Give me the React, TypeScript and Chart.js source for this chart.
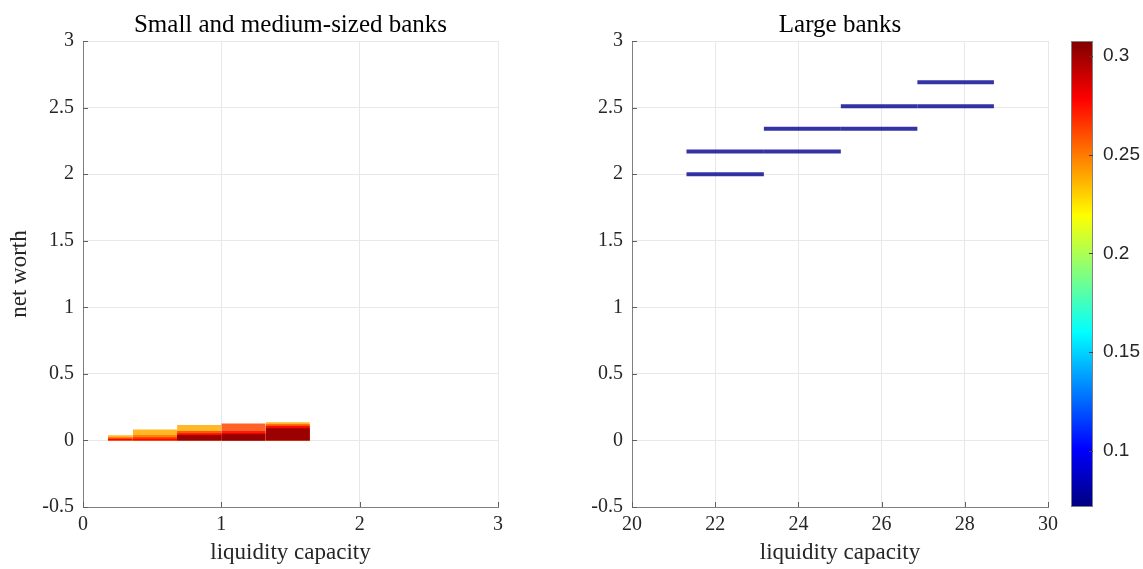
import React, { useEffect, useRef } from "react";
import { Chart, registerables } from "chart.js";

Chart.register(...registerables);

// ---------- data ----------
const smallXTicks = [0, 1, 2, 3];
const largeXTicks = [20, 22, 24, 26, 28, 30];
const yTicks = [-0.5, 0, 0.5, 1, 1.5, 2, 2.5, 3];
const colorTicks = [0.1, 0.15, 0.2, 0.25, 0.3];
const colorMin = 0.0716;
const colorMax = 0.3076;

// small & medium-sized banks: cell edges on liquidity capacity, layer heights (net worth) and colour values
const smallEdges = [0.18, 0.36, 0.68, 1.0, 1.32, 1.64];
const smallHeights = [
  [0.038, 0.022, 0.01],
  [0.082, 0.04, 0.025, 0.012],
  [0.116, 0.07, 0.053, 0.04],
  [0.128, 0.07, 0.053, 0.046],
  [0.136, 0.121, 0.108, 0.091],
];
const smallValues = [
  [0.238, 0.265, 0.28],
  [0.238, 0.25, 0.265, 0.28],
  [0.238, 0.262, 0.28, 0.305],
  [0.262, 0.275, 0.29, 0.305],
  [0.238, 0.262, 0.28, 0.305],
];

// large banks: horizontal segments
const largeX0 = [21.31, 21.31, 23.17, 23.17, 25.02, 25.02, 26.86, 26.86];
const largeX1 = [23.17, 23.17, 25.02, 25.02, 26.86, 26.86, 28.7, 28.7];
const largeY = [2.0, 2.17, 2.17, 2.34, 2.34, 2.51, 2.51, 2.69];
const largeValues = [0.075, 0.075, 0.075, 0.075, 0.075, 0.075, 0.075, 0.075];

// ---------- helpers ----------
const clamp = (v: number) => Math.max(0, Math.min(1, v));
const jet = (t: number) => [
  clamp(1.5 - Math.abs(4 * t - 3)),
  clamp(1.5 - Math.abs(4 * t - 2)),
  clamp(1.5 - Math.abs(4 * t - 1)),
];
const colorFor = (v: number, a: number) => {
  const t = (v - colorMin) / (colorMax - colorMin);
  const [r, g, b] = jet(t);
  return `rgba(${Math.round(r * 255)},${Math.round(g * 255)},${Math.round(b * 255)},${a})`;
};

const SERIF = "'Liberation Serif', 'Times New Roman', serif";
const SANS = "'Liberation Sans', Arial, sans-serif";
const TEXT = "#262626";
const AXIS = "#808080";
const GRID = "#e8e8e8";

const titlePlugin = (text: string) => ({
  id: "customTitle",
  afterDraw(chart: any) {
    const { ctx, chartArea } = chart;
    ctx.save();
    ctx.font = `25px ${SERIF}`;
    ctx.fillStyle = "#000";
    ctx.textAlign = "center";
    ctx.textBaseline = "alphabetic";
    ctx.fillText(text, (chartArea.left + chartArea.right) / 2, 32);
    ctx.restore();
  },
});

const innerTicksPlugin = {
  id: "innerTicks",
  afterDraw(chart: any) {
    const { ctx, chartArea } = chart;
    ctx.save();
    ctx.strokeStyle = "#606060";
    ctx.lineWidth = 1;
    const xs = chart.scales.x;
    const ys = chart.scales.y;
    ctx.beginPath();
    xs.ticks.forEach((t: any) => {
      const px = Math.round(xs.getPixelForValue(t.value)) + 0.5;
      ctx.moveTo(px, chartArea.bottom);
      ctx.lineTo(px, chartArea.bottom - 5);
    });
    ys.ticks.forEach((t: any) => {
      const py = Math.round(ys.getPixelForValue(t.value)) + 0.5;
      ctx.moveTo(chartArea.left, py);
      ctx.lineTo(chartArea.left + 5, py);
    });
    ctx.stroke();
    ctx.restore();
  },
};

function axisOptions(xTicks: number[], yWidth: number, yTitle: string | null) {
  return {
    x: {
      type: "linear",
      min: xTicks[0],
      max: xTicks[xTicks.length - 1],
      afterBuildTicks: (s: any) => {
        s.ticks = xTicks.map((v) => ({ value: v }));
      },
      afterFit: (s: any) => {
        s.height = 62;
      },
      grid: { color: GRID, drawTicks: false },
      border: { display: true, color: AXIS, width: 1 },
      ticks: {
        color: TEXT,
        font: { family: SERIF, size: 20 },
        padding: 6,
        maxRotation: 0,
        callback: (v: any) => String(v),
      },
      title: {
        display: true,
        text: "liquidity capacity",
        color: TEXT,
        font: { family: SERIF, size: 23 },
        padding: { top: 0, bottom: 2 },
      },
    },
    y: {
      type: "linear",
      min: yTicks[0],
      max: yTicks[yTicks.length - 1],
      afterBuildTicks: (s: any) => {
        s.ticks = yTicks.map((v) => ({ value: v }));
      },
      afterFit: (s: any) => {
        s.width = yWidth;
      },
      grid: { color: GRID, drawTicks: false },
      border: { display: true, color: AXIS, width: 1 },
      ticks: {
        color: TEXT,
        font: { family: SERIF, size: 20 },
        padding: 9,
        callback: (v: any) => String(v),
      },
      title: {
        display: !!yTitle,
        text: yTitle || "",
        color: TEXT,
        font: { family: SERIF, size: 23 },
        padding: { top: 6, bottom: 0 },
      },
    },
  };
}

function buildSmallDatasets() {
  const list: any[] = [];
  smallHeights.forEach((layers, i) => {
    layers.forEach((h, j) => {
      list.push({
        data: [
          { x: smallEdges[i], y: h },
          { x: smallEdges[i + 1], y: h },
        ],
        fill: "origin",
        backgroundColor: colorFor(smallValues[i][j], 0.85),
        borderColor: "transparent",
        borderWidth: 0,
        pointRadius: 0,
        tension: 0,
      });
    });
  });
  const n = list.length;
  list.forEach((d, k) => (d.order = n - k));
  return list;
}

function buildLargeDatasets() {
  const list = largeY.map((y, i) => ({
    data: [
      { x: largeX0[i], y },
      { x: largeX1[i], y },
    ],
    fill: false,
    borderColor: colorFor(largeValues[i], 0.8),
    borderWidth: 4,
    borderCapStyle: "butt",
    pointRadius: 0,
    tension: 0,
  }));
  const n = list.length;
  list.forEach((d: any, k) => (d.order = n - k));
  return list;
}

function SmallChart() {
  const ref = useRef<HTMLCanvasElement>(null);
  useEffect(() => {
    const chart = new Chart(ref.current as HTMLCanvasElement, {
      type: "line",
      data: { datasets: buildSmallDatasets() },
      options: {
        responsive: false,
        animation: false,
        events: [],
        layout: { padding: { left: 0, right: 32, top: 41, bottom: 0 } },
        plugins: { legend: { display: false }, tooltip: { enabled: false } },
        scales: axisOptions(smallXTicks, 83, "net worth") as any,
      },
      plugins: [titlePlugin("Small and medium-sized banks"), innerTicksPlugin],
    });
    return () => chart.destroy();
  }, []);
  return (
    <canvas
      ref={ref}
      width={530}
      height={569}
      style={{ position: "absolute", left: 0, top: 0, width: 530, height: 569 }}
    />
  );
}

function LargeChart() {
  const ref = useRef<HTMLCanvasElement>(null);
  useEffect(() => {
    const chart = new Chart(ref.current as HTMLCanvasElement, {
      type: "line",
      data: { datasets: buildLargeDatasets() as any },
      options: {
        responsive: false,
        animation: false,
        events: [],
        layout: { padding: { left: 0, right: 22, top: 41, bottom: 0 } },
        plugins: { legend: { display: false }, tooltip: { enabled: false } },
        scales: axisOptions(largeXTicks, 92, null) as any,
      },
      plugins: [titlePlugin("Large banks"), innerTicksPlugin],
    });
    return () => chart.destroy();
  }, []);
  return (
    <canvas
      ref={ref}
      width={530}
      height={569}
      style={{ position: "absolute", left: 540, top: 0, width: 530, height: 569 }}
    />
  );
}

const colorbarPlugin = {
  id: "colorbar",
  beforeDatasetsDraw(chart: any) {
    const { ctx, chartArea } = chart;
    const { left, right, top, bottom } = chartArea;
    const grad = ctx.createLinearGradient(0, bottom, 0, top);
    const steps = 64;
    for (let i = 0; i <= steps; i++) {
      const t = i / steps;
      const [r, g, b] = jet(t);
      grad.addColorStop(t, `rgb(${Math.round(r * 255)},${Math.round(g * 255)},${Math.round(b * 255)})`);
    }
    ctx.save();
    ctx.fillStyle = grad;
    ctx.fillRect(left, top, right - left, bottom - top);
    ctx.strokeStyle = "#808080";
    ctx.lineWidth = 1;
    ctx.strokeRect(left + 0.5, top + 0.5, right - left - 1, bottom - top - 1);
    const ys = chart.scales.y;
    ctx.strokeStyle = "#404040";
    ctx.beginPath();
    ys.ticks.forEach((t: any) => {
      const py = Math.round(ys.getPixelForValue(t.value)) + 0.5;
      ctx.moveTo(right, py);
      ctx.lineTo(right - 4, py);
    });
    ctx.stroke();
    ctx.restore();
  },
};

function Colorbar() {
  const ref = useRef<HTMLCanvasElement>(null);
  useEffect(() => {
    const chart = new Chart(ref.current as HTMLCanvasElement, {
      type: "scatter",
      data: { datasets: [{ data: [] }] },
      options: {
        responsive: false,
        animation: false,
        events: [],
        layout: { padding: { left: 21, right: 0, top: 41, bottom: 62 } },
        plugins: { legend: { display: false }, tooltip: { enabled: false } },
        scales: {
          x: { display: false, min: 0, max: 1 },
          y: {
            position: "right",
            min: colorMin,
            max: colorMax,
            afterBuildTicks: (s: any) => {
              s.ticks = colorTicks.map((v) => ({ value: v }));
            },
            afterFit: (s: any) => {
              s.width = 50;
            },
            grid: { display: false, drawTicks: false },
            border: { display: false },
            ticks: {
              color: TEXT,
              font: { family: SANS, size: 19 },
              padding: 10,
              callback: (v: any) => String(v),
            },
          },
        } as any,
      },
      plugins: [colorbarPlugin],
    });
    return () => chart.destroy();
  }, []);
  return (
    <canvas
      ref={ref}
      width={93}
      height={569}
      style={{ position: "absolute", left: 1050, top: 0, width: 93, height: 569 }}
    />
  );
}

export default function App() {
  return (
    <div
      style={{
        position: "fixed",
        left: 0,
        top: 0,
        width: 1143,
        height: 569,
        background: "#fff",
        overflow: "hidden",
      }}
    >
      <SmallChart />
      <LargeChart />
      <Colorbar />
    </div>
  );
}
